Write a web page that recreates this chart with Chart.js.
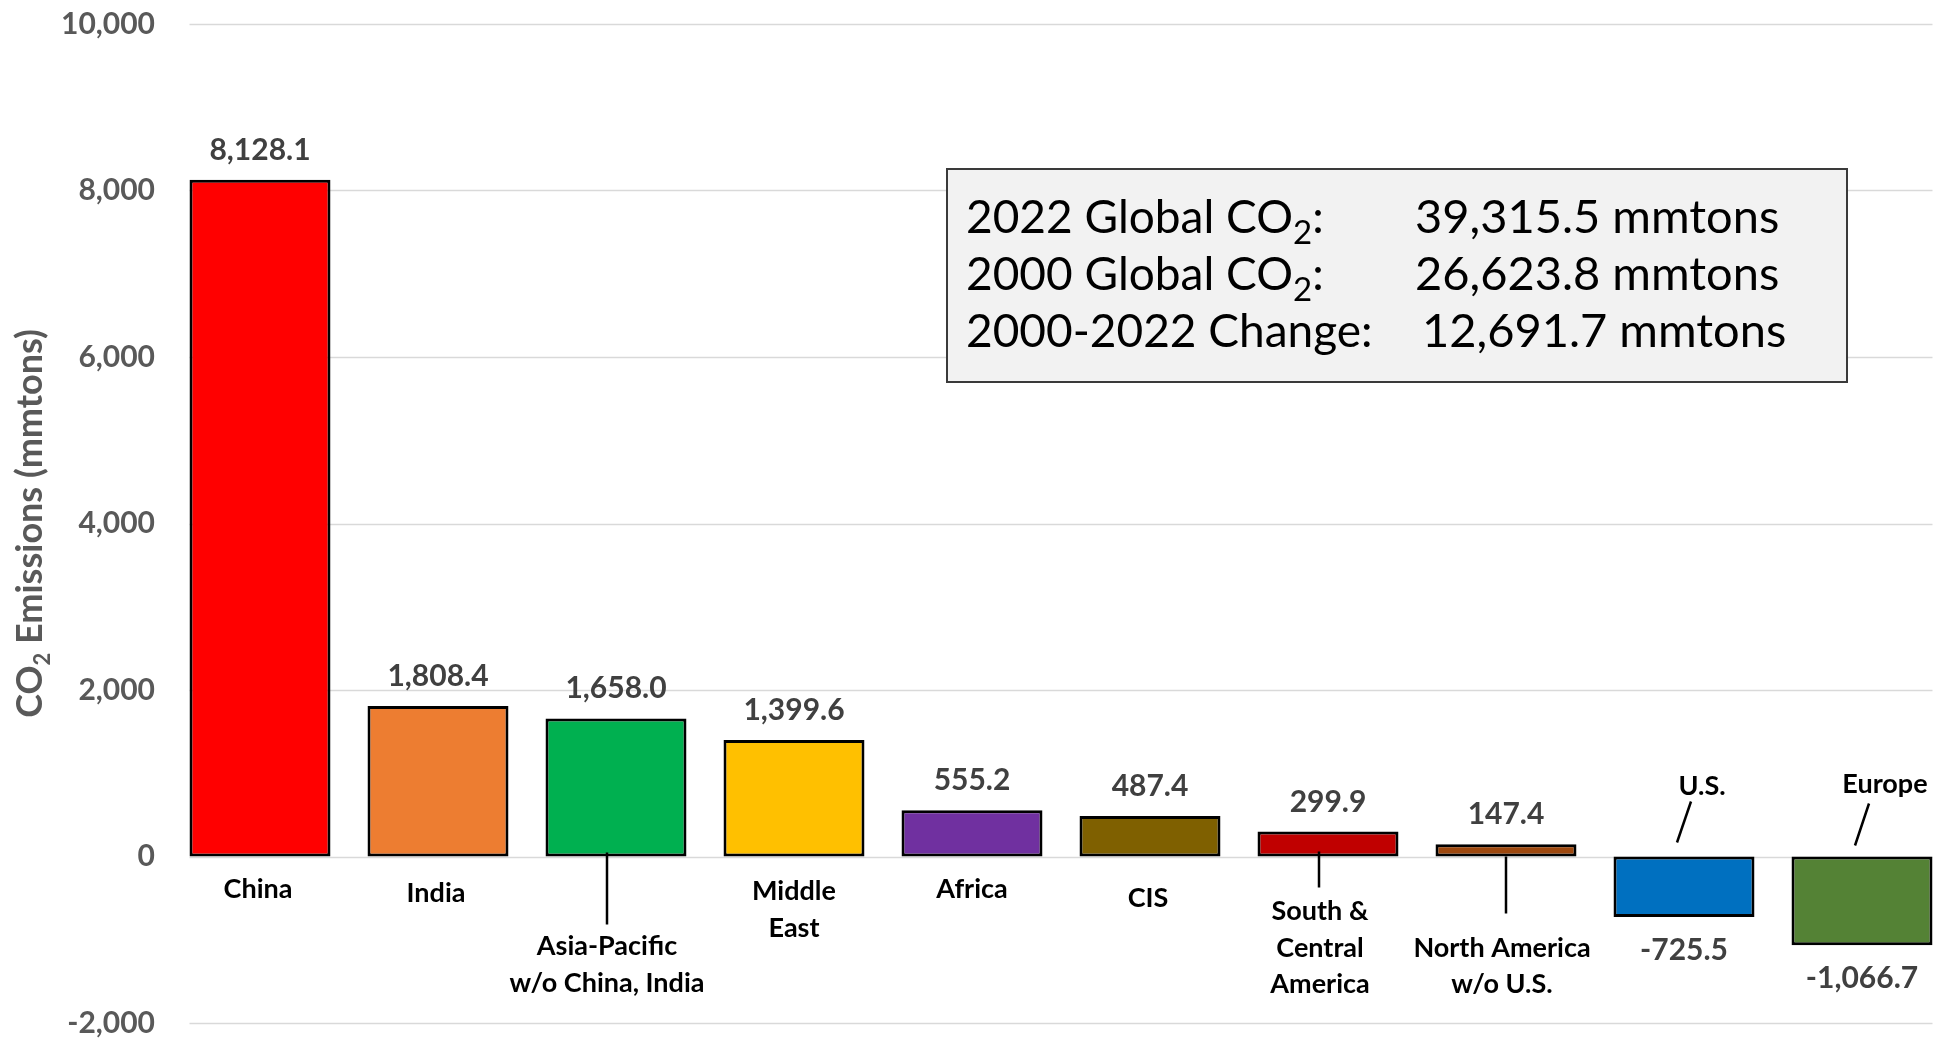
<!DOCTYPE html>
<html>
<head>
<meta charset="utf-8">
<title>CO2 Emissions Change by Region, 2000-2022</title>
<script src="https://cdn.jsdelivr.net/npm/chart.js@4.4.1/dist/chart.umd.min.js"></script>
<style>
  html, body { margin: 0; padding: 0; background: #ffffff; }
  #wrap { width: 1952px; height: 1041px; position: relative; }
</style>
</head>
<body>
<div id="wrap"><canvas id="chart"></canvas></div>
<script>
// ---- Data: change in CO2 emissions 2000-2022 by region (million metric tons) ----
const regions = ['China', 'India', 'Asia-Pacific w/o China, India', 'Middle East', 'Africa',
                 'CIS', 'South & Central America', 'North America w/o U.S.', 'U.S.', 'Europe'];
const regionLabelLines = [
  ['China'], ['India'], ['Asia-Pacific', 'w/o China, India'], ['Middle', 'East'], ['Africa'],
  ['CIS'], ['South &', 'Central', 'America'], ['North America', 'w/o U.S.'], ['U.S.'], ['Europe']
];
const emissionChange = [8128.1, 1808.4, 1658.0, 1399.6, 555.2, 487.4, 299.9, 147.4, -725.5, -1066.7];
const regionColors = ['#FF0000', '#ED7D31', '#00B050', '#FFC000', '#7030A0',
                      '#7F6000', '#C00000', '#9E480E', '#0070C0', '#548235'];
const yTickValues = [-2000, 0, 2000, 4000, 6000, 8000, 10000];
const yAxisTitle = 'CO_2 Emissions (mmtons)';

// Summary box ("_2" marks a subscript 2)
const summaryLabels = ['2022 Global CO_2:', '2000 Global CO_2:', '2000-2022 Change:'];
const summaryValues = [39315.5, 26623.8, 12691.7];
const summaryUnit = 'mmtons';

// ---- Styling / placement of annotations ----
const FONT = 'Lato, "Open Sans", sans-serif';
// Category label placement relative to the bar centre (dx) and the zero line (baselines, leader)
const labelPlacement = [
  { dx: -2, base: [41] },
  { dx: -2, base: [45] },
  { dx: -9, base: [98, 135], leader: [[-9, -4], [-9, 68]] },
  { dx: 0,  base: [43, 80] },
  { dx: 0,  base: [41] },
  { dx: -2, base: [50] },
  { dx: -8, base: [63, 100, 136], leader: [[-9, -5], [-9, 31]] },
  { dx: -4, base: [100, 136], leader: [[0, 0], [0, 57]] },
  { dx: 18, base: [-62], leader: [[7, -55], [-7, -14]] },
  { dx: 23, base: [-64], leader: [[7, -53], [-7, -11]] }
];
const summaryBox = { left: 947, top: 169, right: 1847, bottom: 382,
                     textX: 966, valueX: [1415, 1415, 1422], baselines: [233, 290, 347] };

function fmt1(v) {
  return v.toLocaleString('en-US', { minimumFractionDigits: 1, maximumFractionDigits: 1 });
}

// Draws text in which "_x" renders x as a subscript. Returns the end x.
function drawRich(ctx, text, x, y, size, weight, subScale, subDrop, measureOnly) {
  let cx = x;
  const parts = [];
  let buf = '';
  for (let i = 0; i < text.length; i++) {
    if (text[i] === '_' && i + 1 < text.length) {
      if (buf) parts.push({ t: buf, sub: false });
      parts.push({ t: text[i + 1], sub: true });
      buf = '';
      i++;
    } else {
      buf += text[i];
    }
  }
  if (buf) parts.push({ t: buf, sub: false });
  for (const p of parts) {
    const fs = p.sub ? Math.round(size * subScale) : size;
    ctx.font = weight + ' ' + fs + 'px ' + FONT;
    if (!measureOnly) ctx.fillText(p.t, cx, y + (p.sub ? subDrop : 0));
    cx += ctx.measureText(p.t).width;
  }
  return cx;
}

// Horizontal grid lines spanning from the first bar's left edge to the last bar's right edge
const gridPlugin = {
  id: 'spanGrid',
  beforeDatasetsDraw(chart) {
    const ctx = chart.ctx;
    const meta = chart.getDatasetMeta(0);
    const first = meta.data[0], last = meta.data[meta.data.length - 1];
    const x0 = first.x - first.width / 2;
    const x1 = last.x + last.width / 2;
    ctx.save();
    ctx.strokeStyle = '#D9D9D9';
    ctx.lineWidth = 1.5;
    yTickValues.forEach(v => {
      const y = Math.round(chart.scales.y.getPixelForValue(v)) + 0.5;
      ctx.beginPath();
      ctx.moveTo(x0, y);
      ctx.lineTo(x1, y);
      ctx.stroke();
    });
    ctx.restore();
  }
};

// Value labels, category labels with leader lines, axis title and summary box
const annotatePlugin = {
  id: 'annotate',
  afterDatasetsDraw(chart) {
    const ctx = chart.ctx;
    const meta = chart.getDatasetMeta(0);
    const zeroY = chart.scales.y.getPixelForValue(0);
    ctx.save();

    // value labels
    ctx.textAlign = 'center';
    ctx.textBaseline = 'alphabetic';
    ctx.fillStyle = '#404040';
    ctx.font = 'bold 30px ' + FONT;
    meta.data.forEach((bar, i) => {
      const v = emissionChange[i];
      const y = v >= 0 ? bar.y - 20 : bar.y + 43;
      ctx.fillText(fmt1(v), bar.x, y);
    });

    // category labels
    ctx.fillStyle = '#000000';
    ctx.strokeStyle = '#000000';
    ctx.lineWidth = 2.5;
    ctx.font = 'bold 27px ' + FONT;
    meta.data.forEach((bar, i) => {
      const p = labelPlacement[i];
      regionLabelLines[i].forEach((line, k) => {
        ctx.fillText(line, bar.x + p.dx, zeroY + p.base[k]);
      });
      if (p.leader) {
        ctx.beginPath();
        ctx.moveTo(bar.x + p.leader[0][0], zeroY + p.leader[0][1]);
        ctx.lineTo(bar.x + p.leader[1][0], zeroY + p.leader[1][1]);
        ctx.stroke();
      }
    });

    // y-axis title (rotated, with subscript)
    const ca = chart.chartArea;
    ctx.save();
    ctx.translate(42, (ca.top + ca.bottom) / 2);
    ctx.rotate(-Math.PI / 2);
    ctx.fillStyle = '#595959';
    ctx.textAlign = 'left';
    const w = drawRich(ctx, yAxisTitle, 0, 0, 36, 'bold', 0.62, 8, true);
    drawRich(ctx, yAxisTitle, -w / 2, 0, 36, 'bold', 0.62, 8, false);
    ctx.restore();

    // summary box
    const b = summaryBox;
    ctx.fillStyle = '#F2F2F2';
    ctx.fillRect(b.left, b.top, b.right - b.left, b.bottom - b.top);
    ctx.strokeStyle = '#3A3A3A';
    ctx.lineWidth = 2;
    ctx.strokeRect(b.left, b.top, b.right - b.left, b.bottom - b.top);
    ctx.fillStyle = '#000000';
    ctx.textAlign = 'left';
    summaryLabels.forEach((lab, i) => {
      drawRich(ctx, lab, b.textX, b.baselines[i], 46, 'normal', 0.72, 11, false);
      ctx.font = 'normal 47px ' + FONT;
      ctx.fillText(fmt1(summaryValues[i]) + ' ' + summaryUnit, b.valueX[i], b.baselines[i]);
    });

    ctx.restore();
  }
};

function build() {
  new Chart(document.getElementById('chart'), {
    type: 'bar',
    data: {
      labels: regions,
      datasets: [{
        data: emissionChange,
        backgroundColor: regionColors,
        borderColor: '#000000',
        borderWidth: 3,
        borderSkipped: false,
        categoryPercentage: 1.0,
        barPercentage: 0.792
      }]
    },
    options: {
      responsive: true,
      maintainAspectRatio: false,
      animation: false,
      layout: { padding: { top: 24, bottom: 18, left: 0, right: 1 } },
      plugins: { legend: { display: false }, tooltip: { enabled: false }, title: { display: false } },
      scales: {
        x: { display: false },
        y: {
          min: -2000,
          max: 10000,
          afterBuildTicks(scale) { scale.ticks = yTickValues.map(v => ({ value: v })); },
          afterFit(scale) {
            scale.width = 171;
            // the outer layout padding already leaves room for the end labels
            scale.paddingTop = 0;
            scale.paddingBottom = 0;
          },
          grid: { display: false, drawTicks: false },
          border: { display: false },
          ticks: {
            padding: 16,
            color: '#595959',
            font: { family: FONT, weight: 'bold', size: 30 },
            callback: v => Number(v).toLocaleString('en-US')
          }
        }
      }
    },
    plugins: [gridPlugin, annotatePlugin]
  });
}

Promise.all([
  document.fonts.load('bold 30px Lato'),
  document.fonts.load('normal 46px Lato')
]).then(build, build);
</script>
</body>
</html>
